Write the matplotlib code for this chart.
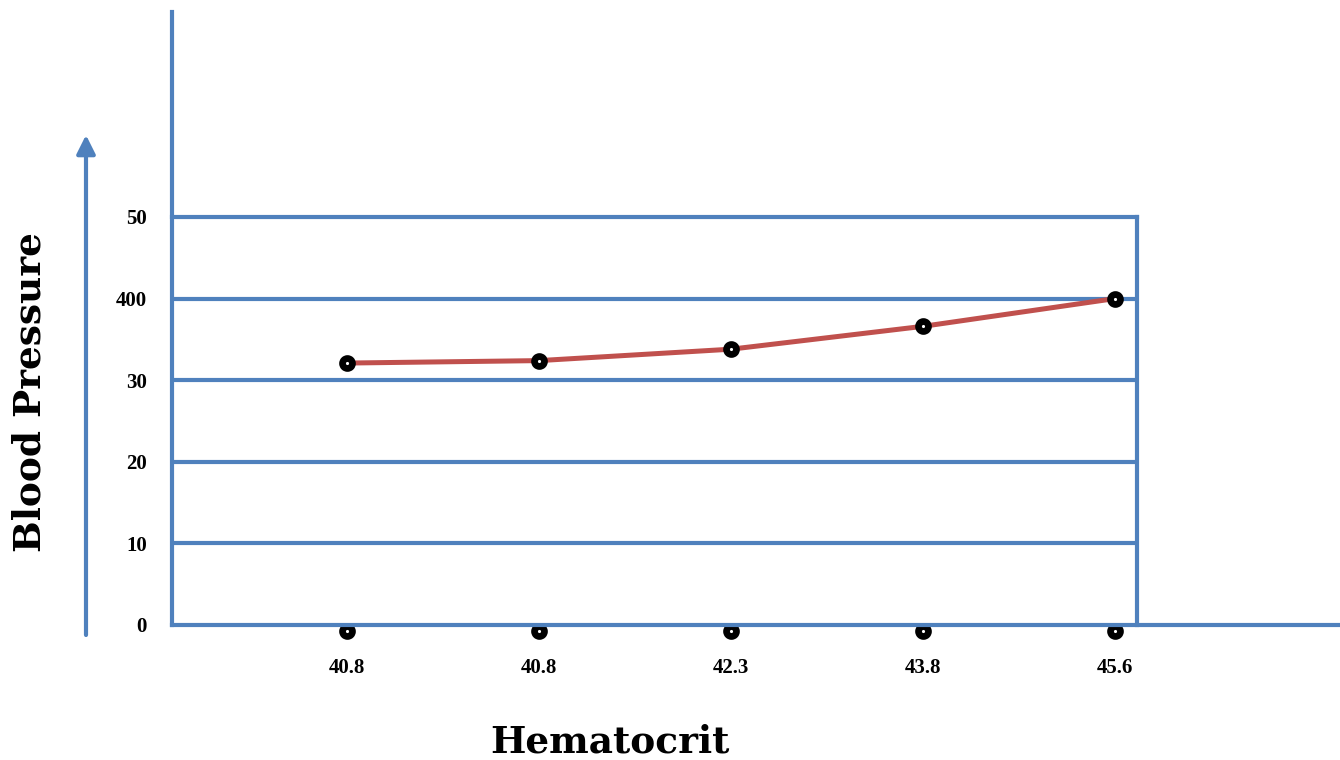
import matplotlib
matplotlib.use("Agg")
import matplotlib.pyplot as plt
from matplotlib.lines import Line2D

# ---- data ----
x_labels = ["40.8", "40.8", "42.3", "43.8", "45.6"]
bp_values = [32.1, 32.4, 33.8, 36.6, 40.0]
y_ticks = [0, 10, 20, 30, 40, 50]
y_tick_labels = ["0", "10", "20", "30", "400", "50"]
x_title = "Hematocrit"
y_title = "Blood Pressure"

BLUE = "#4F81BD"
RED = "#C0504D"
W, H = 1340, 760

def fx(px):
    return px / W

def fy(py):
    return 1 - py / H

fig = plt.figure(figsize=(13.4, 7.6), dpi=100)
ax = fig.add_axes([fx(172), fy(625), (1137 - 172) / W, (625 - 217) / H])
xs = list(range(len(x_labels)))
ax.set_xlim(-0.911, 4.115)
ax.set_ylim(0, 50)

for side in ["left", "bottom"]:
    ax.spines[side].set_visible(False)
for side in ["top", "right"]:
    ax.spines[side].set_color(BLUE)
    ax.spines[side].set_linewidth(3)
    ax.spines[side].set_zorder(3)

# grid lines
for v in y_ticks[1:-1]:
    ax.axhline(v, color=BLUE, lw=3, zorder=2)

# extended left and bottom axis lines
ax.add_line(Line2D([0, 0], [0, 1.5025], transform=ax.transAxes, color=BLUE,
                   lw=3, clip_on=False, zorder=4))
ax.add_line(Line2D([0, 1.2104], [0, 0], transform=ax.transAxes, color=BLUE,
                   lw=3, clip_on=False, zorder=4))

marker_style = dict(marker="o", ms=7.2, mfc="white", mec="black", mew=4.8,
                    linestyle="none", clip_on=False)

# markers under the axis
ax.plot(xs, [-0.7] * len(xs), zorder=1, **marker_style)

# data line
ax.plot(xs, bp_values, color=RED, lw=3.6, zorder=5, clip_on=False,
        solid_capstyle="butt")
ax.plot(xs, bp_values, zorder=6, **marker_style)

tick_font = dict(family="Liberation Serif", weight="bold", size=15)
ax.set_xticks(xs)
ax.set_xticklabels(x_labels, fontdict=tick_font)
ax.set_yticks(y_ticks)
ax.set_yticklabels(y_tick_labels, fontdict=tick_font)
ax.tick_params(axis="x", length=0, pad=24)
ax.tick_params(axis="y", length=0, pad=18)

# titles
title_font = dict(family="DejaVu Serif", weight="bold", size=27)
fig.text(fx(30), fy(392), y_title, rotation=90, ha="center", va="center",
         fontdict=title_font)
fig.text(fx(610), fy(742), x_title, ha="center", va="center",
         fontdict=title_font)

# arrow
ax.annotate("", xy=(fx(86), fy(135)), xytext=(fx(86), fy(635)),
            xycoords="figure fraction", textcoords="figure fraction",
            arrowprops=dict(arrowstyle="-|>", color=BLUE, lw=3,
                            mutation_scale=28, shrinkA=0, shrinkB=0))

fig.savefig("out.png", dpi=100)
